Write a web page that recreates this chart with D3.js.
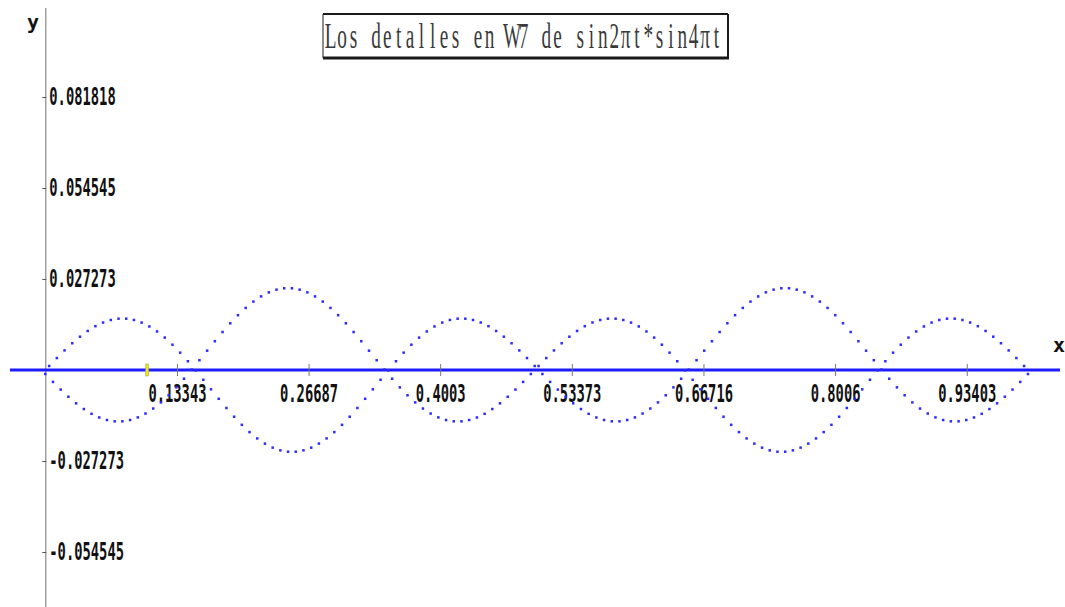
<!DOCTYPE html>
<html lang="es">
<head>
<meta charset="UTF-8">
<title>Los detalles en W7</title>
<style>
    body { margin: 0; background: #fff; }
    .tick-label { font-family: "DejaVu Sans Mono", monospace; font-weight: bold; font-size: 24px; fill: #111; }
    .axis-name { font-family: "DejaVu Sans Mono", monospace; font-weight: bold; font-size: 20px; fill: #111; }
    .title { font-family: "Liberation Serif", "DejaVu Serif", serif; font-size: 35px; fill: #3a3a3a; }
</style>
</head>
<body>
<svg width="1065" height="607"></svg>
<script src="https://cdn.jsdelivr.net/npm/d3@7"></script>
<script>
const titleText = "Los detalles en W7 de sin2πt*sin4πt";

const xTicks = [0.13343, 0.26687, 0.4003, 0.53373, 0.66716, 0.8006, 0.93403];
const yTicks = [0.081818, 0.054545, 0.027273, -0.027273, -0.054545];
const cursorAt = [0.1033];

// detail values, sampled every 1/256 on [0,1)
const detailW7 = [
    -0.00120, 0.00120, -0.00358, 0.00358, -0.00587, 0.00587, -0.00802, 0.00802,
    -0.00998, 0.00998, -0.01170, 0.01170, -0.01313, 0.01313, -0.01423, 0.01423,
    -0.01499, 0.01499, -0.01538, 0.01538, -0.01538, 0.01538, -0.01499, 0.01499,
    -0.01421, 0.01421, -0.01305, 0.01305, -0.01155, 0.01155, -0.00971, 0.00971,
    -0.00758, 0.00758, -0.00520, 0.00520, -0.00262, 0.00262, 0.00011, -0.00011,
    0.00293, -0.00293, 0.00579, -0.00579, 0.00863, -0.00863, 0.01138, -0.01138,
    0.01400, -0.01400, 0.01643, -0.01643, 0.01861, -0.01861, 0.02050, -0.02050,
    0.02206, -0.02206, 0.02327, -0.02327, 0.02408, -0.02408, 0.02449, -0.02449,
    0.02449, -0.02449, 0.02408, -0.02408, 0.02327, -0.02327, 0.02206, -0.02206,
    0.02050, -0.02050, 0.01861, -0.01861, 0.01643, -0.01643, 0.01400, -0.01400,
    0.01138, -0.01138, 0.00863, -0.00863, 0.00579, -0.00579, 0.00293, -0.00293,
    0.00011, -0.00011, -0.00262, 0.00262, -0.00520, 0.00520, -0.00758, 0.00758,
    -0.00971, 0.00971, -0.01155, 0.01155, -0.01305, 0.01305, -0.01421, 0.01421,
    -0.01499, 0.01499, -0.01538, 0.01538, -0.01538, 0.01538, -0.01499, 0.01499,
    -0.01423, 0.01423, -0.01313, 0.01313, -0.01170, 0.01170, -0.00998, 0.00998,
    -0.00802, 0.00802, -0.00587, 0.00587, -0.00358, 0.00358, -0.00120, 0.00120,
    0.00120, -0.00120, 0.00358, -0.00358, 0.00587, -0.00587, 0.00802, -0.00802,
    0.00998, -0.00998, 0.01170, -0.01170, 0.01313, -0.01313, 0.01423, -0.01423,
    0.01499, -0.01499, 0.01538, -0.01538, 0.01538, -0.01538, 0.01499, -0.01499,
    0.01421, -0.01421, 0.01305, -0.01305, 0.01155, -0.01155, 0.00971, -0.00971,
    0.00758, -0.00758, 0.00520, -0.00520, 0.00262, -0.00262, -0.00011, 0.00011,
    -0.00293, 0.00293, -0.00579, 0.00579, -0.00863, 0.00863, -0.01138, 0.01138,
    -0.01400, 0.01400, -0.01643, 0.01643, -0.01861, 0.01861, -0.02050, 0.02050,
    -0.02206, 0.02206, -0.02327, 0.02327, -0.02408, 0.02408, -0.02449, 0.02449,
    -0.02449, 0.02449, -0.02408, 0.02408, -0.02327, 0.02327, -0.02206, 0.02206,
    -0.02050, 0.02050, -0.01861, 0.01861, -0.01643, 0.01643, -0.01400, 0.01400,
    -0.01138, 0.01138, -0.00863, 0.00863, -0.00579, 0.00579, -0.00293, 0.00293,
    -0.00011, 0.00011, 0.00262, -0.00262, 0.00520, -0.00520, 0.00758, -0.00758,
    0.00971, -0.00971, 0.01155, -0.01155, 0.01305, -0.01305, 0.01421, -0.01421,
    0.01499, -0.01499, 0.01538, -0.01538, 0.01538, -0.01538, 0.01499, -0.01499,
    0.01423, -0.01423, 0.01313, -0.01313, 0.01170, -0.01170, 0.00998, -0.00998,
    0.00802, -0.00802, 0.00587, -0.00587, 0.00358, -0.00358, 0.00120, -0.00120
];

const svg = d3.select("svg");
const charW = 8.3;

const x = d3.scaleLinear().domain([0, 1]).range([45.3, 1031.8]);
const y = d3.scaleLinear().domain([-0.054545, 0.081818]).range([552, 97]);
const x0 = x(0), y0 = y(0);

// y axis (grey line through the whole height)
svg.append("line")
    .attr("x1", x0 + 0.5).attr("x2", x0 + 0.5)
    .attr("y1", 8).attr("y2", 607)
    .attr("stroke", "#8a8a8a").attr("stroke-width", 1.2);

const yAxis = svg.append("g")
    .attr("transform", `translate(${x0},0)`)
    .call(d3.axisRight(y).tickValues(yTicks).tickSize(0).tickPadding(4)
        .tickFormat(d => String(d)));
yAxis.select(".domain").remove();
yAxis.selectAll(".tick line")
    .attr("x1", -3).attr("x2", 1)
    .attr("stroke", "#555");
yAxis.selectAll(".tick text")
    .attr("class", "tick-label")
    .attr("font-family", null).attr("font-size", null)
    .attr("textLength", d => String(d).length * charW)
    .attr("lengthAdjust", "spacingAndGlyphs");

// x axis: blue line with grey ticks
svg.append("line")
    .attr("x1", 10).attr("x2", 1060)
    .attr("y1", y0).attr("y2", y0)
    .attr("stroke", "#1c1cff").attr("stroke-width", 3);

const xAxis = svg.append("g")
    .attr("transform", `translate(0,${y0})`)
    .call(d3.axisBottom(x).tickValues(xTicks).tickSize(0)
        .tickFormat(d => String(d)));
xAxis.select(".domain").remove();
xAxis.selectAll(".tick line")
    .attr("y1", -6).attr("y2", 6)
    .attr("stroke", "#777");
xAxis.selectAll(".tick text")
    .attr("class", "tick-label")
    .attr("font-family", null).attr("font-size", null)
    .attr("y", 32).attr("dy", 0)
    .attr("textLength", d => String(d).length * charW)
    .attr("lengthAdjust", "spacingAndGlyphs");

// small yellow cursor mark on the axis
svg.selectAll(".cursor")
    .data(cursorAt)
    .enter()
    .append("rect")
    .attr("class", "cursor")
    .attr("x", d => x(d) - 1.5)
    .attr("y", y0 - 6)
    .attr("width", 3)
    .attr("height", 12)
    .attr("fill", "#f2e600")
    .attr("stroke", "#999")
    .attr("stroke-width", 0.5);

// axis names
svg.append("text").attr("class", "axis-name")
    .attr("x", 27).attr("y", 29).text("y");
svg.append("text").attr("class", "axis-name")
    .attr("x", 1053).attr("y", 352).text("x");

// detail points
svg.selectAll(".pt")
    .data(detailW7)
    .enter()
    .append("rect")
    .attr("class", "pt")
    .attr("x", (d, i) => x(i / 256) - 1.25)
    .attr("y", d => y(d) - 1.25)
    .attr("width", 2.5)
    .attr("height", 2.5)
    .attr("fill", "#2b2bff");

// title box
const box = { x1: 323, y1: 14, x2: 728, y2: 58 };
const frame = svg.append("g").attr("stroke", "#1a1a1a");
frame.append("line").attr("x1", box.x1).attr("x2", box.x2).attr("y1", box.y1).attr("y2", box.y1).attr("stroke-width", 2);
frame.append("line").attr("x1", box.x1).attr("x2", box.x2 + 1).attr("y1", box.y2).attr("y2", box.y2).attr("stroke-width", 3);
frame.append("line").attr("x1", box.x1).attr("x2", box.x1).attr("y1", box.y1).attr("y2", box.y2).attr("stroke-width", 1);
frame.append("line").attr("x1", box.x2).attr("x2", box.x2).attr("y1", box.y1).attr("y2", box.y2).attr("stroke-width", 2);

// title: serif glyphs on a fixed-width grid, squeezed horizontally
const squeeze = 0.55;
const cell = 397 / titleText.length;
svg.append("text")
    .attr("class", "title")
    .attr("transform", `translate(325,48) scale(${squeeze},1)`)
    .attr("text-anchor", "middle")
    .attr("x", Array.from(titleText, (c, i) => ((i + 0.5) * cell / squeeze).toFixed(1)).join(" "))
    .attr("y", 0)
    .text(titleText);
</script>
</body>
</html>
